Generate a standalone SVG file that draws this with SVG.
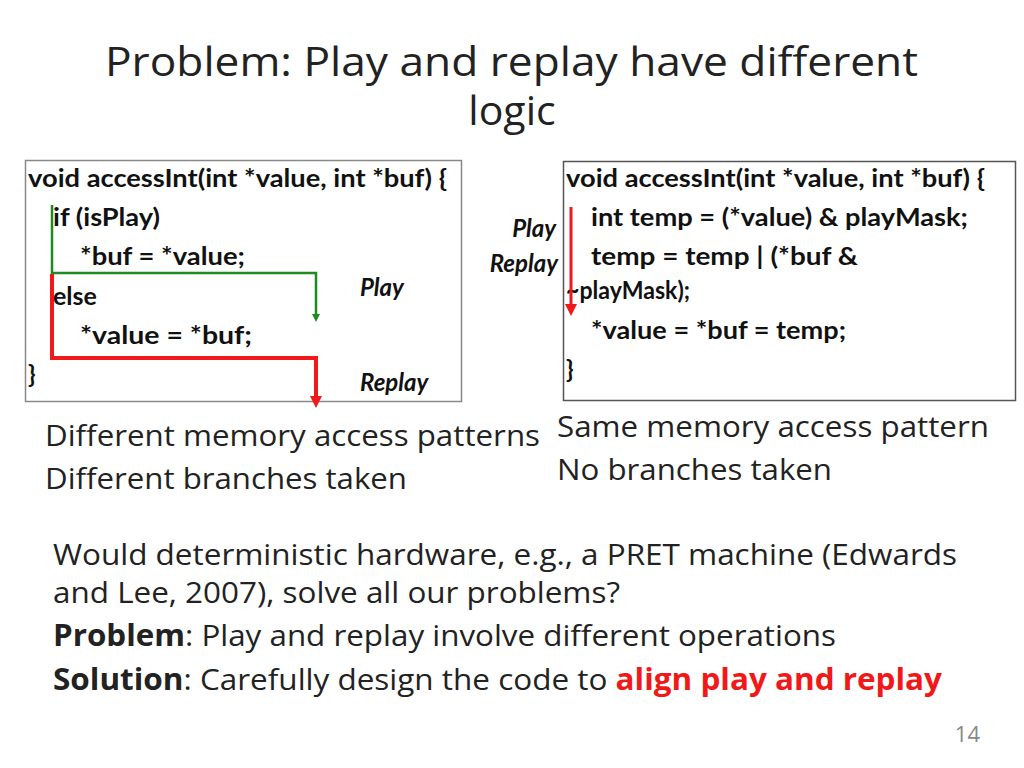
<svg xmlns="http://www.w3.org/2000/svg" width="1024" height="768" viewBox="0 0 1024 768">
<style>
.t{font-family:"Open Sans","Noto Sans",sans-serif;fill:#222}
.c{font-family:Lato,"Liberation Sans",sans-serif;font-weight:bold;font-size:25px;fill:#111}
.i{font-family:Lato,"Liberation Sans",sans-serif;font-weight:bold;font-style:italic;font-size:24px;fill:#111}
.b{font-size:30px}
</style>
<defs>
<marker id="ag" markerWidth="8" markerHeight="8" refX="4" refY="4" orient="auto" markerUnits="userSpaceOnUse"><path d="M0,0 L8,4 L0,8 Z" fill="#1f8a1f"/></marker>
<marker id="ar" markerWidth="12" markerHeight="12" refX="6" refY="6" orient="auto" markerUnits="userSpaceOnUse"><path d="M0,0 L12,6 L0,12 Z" fill="#f01818"/></marker>
</defs>
<rect width="1024" height="768" fill="#fff"/>
<text class="t" x="105" y="76" font-size="41" textLength="813" lengthAdjust="spacingAndGlyphs">Problem: Play and replay have different</text>
<text class="t" x="512" y="125" font-size="41" text-anchor="middle">logic</text>
<g id="left">
<rect x="25.5" y="160.5" width="436" height="241" fill="#fff" stroke="#888" stroke-width="1.5"/>
<text class="c" x="28" y="187" textLength="419" lengthAdjust="spacingAndGlyphs">void accessInt(int *value, int *buf) {</text>
<text class="c" x="53" y="226" textLength="107" lengthAdjust="spacingAndGlyphs">if (isPlay)</text>
<text class="c" x="80" y="265" textLength="165" lengthAdjust="spacingAndGlyphs">*buf = *value;</text>
<text class="c" x="53" y="305">else</text>
<text class="c" x="80" y="344" textLength="172" lengthAdjust="spacingAndGlyphs">*value  = *buf;</text>
<text class="c" x="28" y="383">}</text>
<text class="i" x="360" y="296">Play</text>
<text class="i" x="360" y="391">Replay</text>
</g>
<g id="right">
<rect x="563.5" y="161.5" width="452" height="239" fill="#fff" stroke="#555" stroke-width="1.5"/>
<text class="c" x="566" y="187" textLength="419" lengthAdjust="spacingAndGlyphs">void accessInt(int *value, int *buf) {</text>
<text class="c" x="591" y="226" textLength="377" lengthAdjust="spacingAndGlyphs">int temp = (*value) &amp; playMask;</text>
<text class="c" x="591" y="265" textLength="267" lengthAdjust="spacingAndGlyphs">temp = temp | (*buf &amp;</text>
<text class="c" x="566" y="299" textLength="124" lengthAdjust="spacingAndGlyphs">~playMask);</text>
<text class="c" x="591" y="339" textLength="255" lengthAdjust="spacingAndGlyphs">*value = *buf = temp;</text>
<text class="c" x="566" y="378">}</text>
<text class="i" x="556" y="237" text-anchor="end">Play</text>
<text class="i" x="558" y="272" text-anchor="end">Replay</text>
</g>
<g id="connectors" fill="none">
<path d="M52,205 V273 H316 V318" stroke="#1f8a1f" stroke-width="2.5" marker-end="url(#ag)"/>
<path d="M52,274 V358 H316 V402" stroke="#f01818" stroke-width="4" marker-end="url(#ar)"/>
<path d="M571,207 V310" stroke="#f01818" stroke-width="3" marker-end="url(#ar)"/>
</g>
<text class="t b" x="45" y="446" textLength="495" lengthAdjust="spacingAndGlyphs">Different memory access patterns</text>
<text class="t b" x="45" y="489" textLength="362" lengthAdjust="spacingAndGlyphs">Different branches taken</text>
<text class="t b" x="557" y="437" textLength="432" lengthAdjust="spacingAndGlyphs">Same memory access pattern</text>
<text class="t b" x="557" y="480" textLength="275" lengthAdjust="spacingAndGlyphs">No branches taken</text>
<text class="t b" x="53" y="565" textLength="904" lengthAdjust="spacingAndGlyphs">Would deterministic hardware, e.g., a PRET machine (Edwards</text>
<text class="t b" x="53" y="603" textLength="567" lengthAdjust="spacingAndGlyphs">and Lee, 2007), solve all our problems?</text>
<text class="t b" x="53" y="646" textLength="783" lengthAdjust="spacingAndGlyphs"><tspan font-weight="bold">Problem</tspan>: Play and replay involve different operations</text>
<text class="t b" x="53" y="690" textLength="889" lengthAdjust="spacingAndGlyphs"><tspan font-weight="bold">Solution</tspan>: Carefully design the code to <tspan font-weight="bold" fill="#f01818">align play and replay</tspan></text>
<text class="t" x="980" y="742" font-size="22" text-anchor="end" style="fill:#888">14</text>
</svg>
